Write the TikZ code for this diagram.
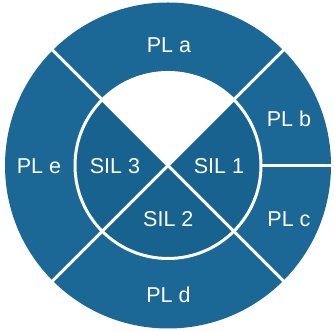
\documentclass[tikz,border=0pt]{standalone}
\usepackage{fontspec}
\setmainfont{Liberation Sans}
\usetikzlibrary{calc}
\definecolor{ringblue}{HTML}{1B6897}
\definecolor{innerblue}{HTML}{17628F}
\begin{document}
\begin{tikzpicture}[x=1pt,y=1pt,
  lbl/.style={text=white,font=\fontsize{21.5}{25}\selectfont,anchor=base,inner sep=0pt},
  sep/.style={draw=white,line width=3pt}]
\useasboundingbox (0,0) rectangle (334,331);
\coordinate (C) at (168,165.5);
\fill[ringblue] (C) circle[radius=163];
\fill[innerblue] (C) circle[radius=93];
\fill[white] (C) -- ++(45:93) arc[start angle=45,end angle=135,radius=93] -- cycle;
\draw[sep] (C) circle[radius=93];
\coordinate (o45) at ($(C)+(45:165)$);
\coordinate (o135) at ($(C)+(135:165)$);
\coordinate (o225) at ($(C)+(225:165)$);
\coordinate (o315) at ($(C)+(315:165)$);
\coordinate (i0) at ($(C)+(0:93)$);
\coordinate (o0) at ($(C)+(0:165)$);
\draw[sep] (o135) -- (C) -- (o315);
\draw[sep] (o45) -- (C) -- (o225);
\draw[sep] (i0) -- (o0);
\node[lbl] (pla) at (169,278.3) {PL a};
\node[lbl] (plb) at (289,204.3) {PL b};
\node[lbl] (plc) at (289,104.3) {PL c};
\node[lbl] (pld) at (168.5,28) {PL d};
\node[lbl] (ple) at (39,157.7) {PL e};
\node[lbl] (sil3) at (115,157.7) {SIL 3};
\node[lbl] (sil1) at (219,157.7) {SIL 1};
\node[lbl] (sil2) at (168.3,104.3) {SIL 2};
\end{tikzpicture}
\end{document}
